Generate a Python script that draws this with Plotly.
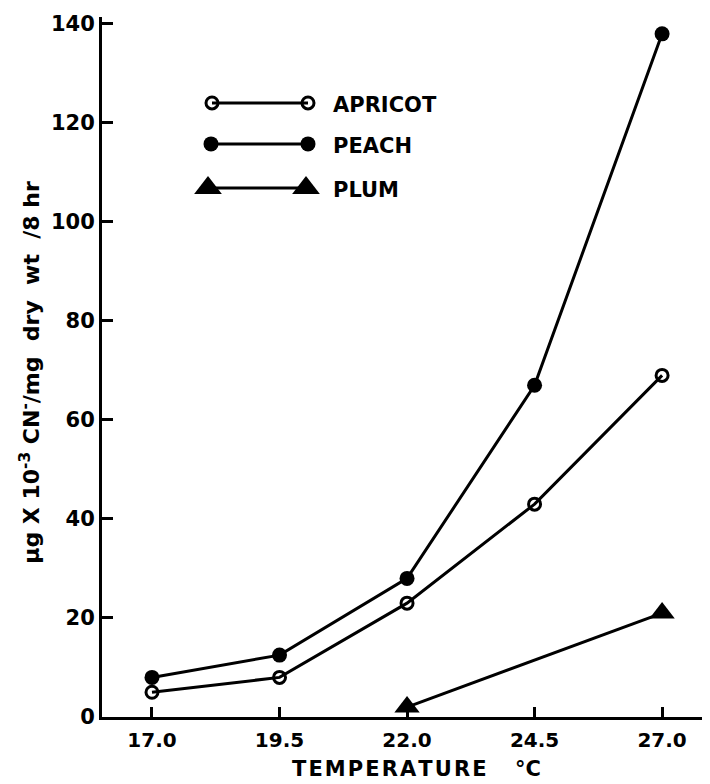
import plotly.graph_objects as go

temps = [17.0, 19.5, 22.0, 24.5, 27.0]
apricot = [5, 8, 23, 43, 69]
peach = [8, 12.5, 28, 67, 138]
plum_x = [22.0, 27.0]
plum = [2, 21]
x_ticks = [17.0, 19.5, 22.0, 24.5, 27.0]
x_tick_labels = ["17.0", "19.5", "22.0", "24.5", "27.0"]
y_ticks = [0, 20, 40, 60, 80, 100, 120, 140]
legend_names = ["APRICOT", "PEACH", "PLUM"]

FONT = "DejaVu Sans"
BLACK = "#000000"

# plot area in screen pixels (page has an 8px body margin)
PL, PR, PT, PB = 102, 708, 17, 717.5
BODY = 8


def px(sx):
    return (sx - PL) / (PR - PL)


def py(sy):
    return (PB - sy) / (PB - PT)


fig = go.Figure()
fig.add_trace(go.Scatter(x=temps, y=peach, mode="lines+markers",
                         line=dict(color=BLACK, width=3),
                         marker=dict(symbol="circle", size=15, color=BLACK),
                         cliponaxis=False, showlegend=False))
fig.add_trace(go.Scatter(x=temps, y=apricot, mode="lines+markers",
                         line=dict(color=BLACK, width=3),
                         marker=dict(symbol="circle-open", size=12, color=BLACK, line=dict(width=3)),
                         cliponaxis=False, showlegend=False))
fig.add_trace(go.Scatter(x=plum_x, y=plum, mode="lines+markers",
                         line=dict(color=BLACK, width=3),
                         marker=dict(symbol="triangle-up", size=22, color=BLACK),
                         cliponaxis=False, showlegend=False))

# Legend keys drawn on an overlay axis measured in screen pixels of the plot area
leg_rows = [103, 144, 188]
leg_styles = [
    dict(symbol="circle-open", size=12, color=BLACK, line=dict(width=3, color=BLACK)),
    dict(symbol="circle", size=15, color=BLACK),
    dict(symbol="triangle-up", size=24, color=BLACK),
]
leg_x = [[212, 308], [211, 308], [208, 306]]
for name, yy, st, xs in zip(legend_names, leg_rows, leg_styles, leg_x):
    fig.add_trace(go.Scatter(x=xs, y=[yy, yy], mode="lines+markers",
                             line=dict(color=BLACK, width=3), marker=st,
                             xaxis="x2", yaxis="y2", cliponaxis=False, showlegend=False))
    fig.add_annotation(x=px(331), y=py(yy + 2), xref="paper", yref="paper", text=name, showarrow=False,
                       xanchor="left", yanchor="middle",
                       font=dict(family=FONT, size=21, color=BLACK, weight="bold"))

W, H = 710 - BODY, 784
fig.update_layout(
    width=W, height=H,
    margin=dict(l=PL - BODY, r=W - (PR - BODY), t=PT - BODY, b=H - (PB - BODY)),
    paper_bgcolor="white", plot_bgcolor="white",
    font=dict(family=FONT, color=BLACK),
    xaxis=dict(range=[16.02, 27.9], tickvals=x_ticks, ticktext=x_tick_labels,
               ticks="inside", ticklen=10, tickwidth=2.5, tickcolor=BLACK,
               showline=True, linewidth=3, linecolor=BLACK, showgrid=False, zeroline=False,
               ticklabelstandoff=3,
               tickfont=dict(family=FONT, size=20, color=BLACK, weight="bold")),
    yaxis=dict(range=[0, 141.4], tickvals=y_ticks,
               ticks="inside", ticklen=11, tickwidth=2.5, tickcolor=BLACK,
               showline=True, linewidth=3, linecolor=BLACK, showgrid=False, zeroline=False,
               tickfont=dict(family=FONT, size=21, color=BLACK, weight="bold")),
    xaxis2=dict(range=[PL, PR], overlaying="x", visible=False, fixedrange=True),
    yaxis2=dict(range=[PB, PT], overlaying="y", visible=False, fixedrange=True),
)

HS = "\u200a"
fig.add_annotation(x=px(290), y=py(770), xref="paper", yref="paper",
                   text=HS.join("TEMPERATURE"), showarrow=False,
                   xanchor="left", yanchor="middle",
                   font=dict(family=FONT, size=21, color=BLACK, weight="bold"))
fig.add_annotation(x=px(513), y=py(770), xref="paper", yref="paper",
                   text="°C", showarrow=False,
                   xanchor="left", yanchor="middle",
                   font=dict(family=FONT, size=21, color=BLACK, weight="bold"))
fig.add_annotation(x=px(30), y=py(373), xref="paper", yref="paper",
                   text="µg X 10<sup>-3</sup> CN<sup>-</sup>/mg  dry  wt  /8 hr",
                   showarrow=False, textangle=-90, xanchor="center", yanchor="middle",
                   font=dict(family=FONT, size=22, color=BLACK, weight="bold"))

fig.write_html("out.html")
